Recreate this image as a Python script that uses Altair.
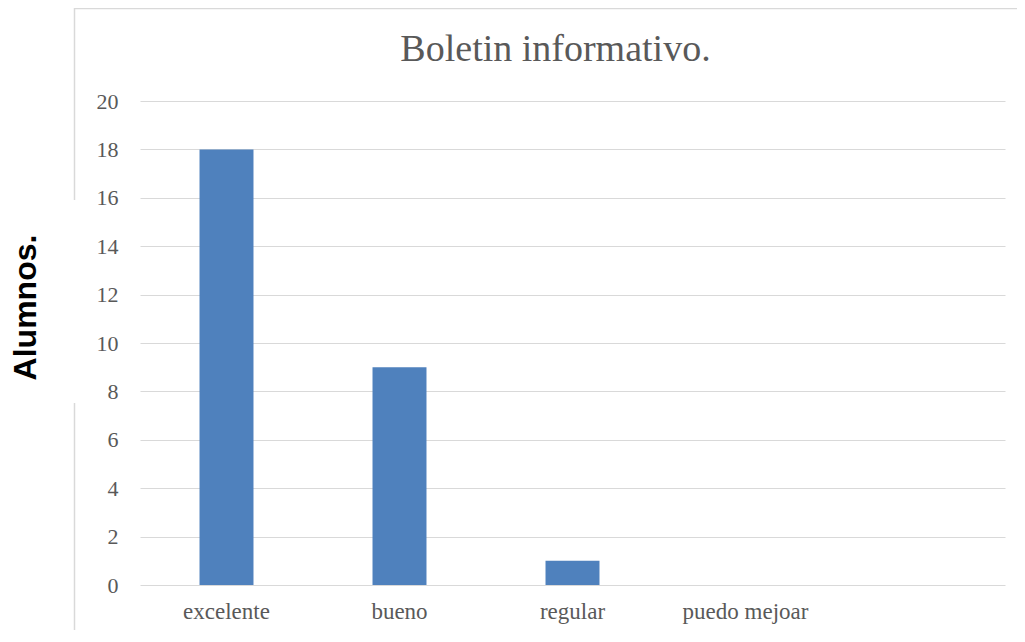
import altair as alt
import pandas as pd

categories = ["excelente", "bueno", "regular", "puedo mejoar"]
values = [18, 9, 1, 0]
domain_cats = categories + [" "]
y_ticks = [0, 2, 4, 6, 8, 10, 12, 14, 16, 18, 20]

df = pd.DataFrame({"cat": categories, "val": values})

GRID = "#D9D9D9"
TXT = "#595959"

bars = alt.Chart(df).mark_bar(color="#4F81BD").encode(
    x=alt.X(
        "cat:N",
        scale=alt.Scale(domain=domain_cats, paddingInner=0.688, paddingOuter=0.344),
        axis=alt.Axis(
            title=None, labelAngle=0, domain=False, ticks=False,
            labelFont="Liberation Serif", labelFontSize=23, labelColor=TXT,
            labelPadding=15,
        ),
    ),
    y=alt.Y(
        "val:Q",
        scale=alt.Scale(domain=[0, 20], nice=False),
        axis=alt.Axis(
            values=y_ticks, title="Alumnos.", domain=False, ticks=False,
            grid=True, gridColor=GRID, gridWidth=1,
            labelFont="Liberation Serif", labelFontSize=22, labelColor=TXT,
            labelPadding=22,
            titleFont="Liberation Sans", titleFontSize=32, titleFontWeight="bold",
            titleColor="black", titleAngle=-90, titleX=-115, titleY=206,
            titleAlign="center", titleBaseline="middle",
        ),
    ),
)

one = pd.DataFrame({"a": [0]})
border_top = alt.Chart(one).mark_rule(color=GRID, strokeWidth=1.5).encode(
    x=alt.value(-65), x2=alt.value(900), y=alt.value(-92.5)
)
border_left1 = alt.Chart(one).mark_rule(color=GRID, strokeWidth=1.5).encode(
    x=alt.value(-65.5), y=alt.value(-93), y2=alt.value(99)
)
border_left2 = alt.Chart(one).mark_rule(color=GRID, strokeWidth=1.5).encode(
    x=alt.value(-65.5), y=alt.value(302), y2=alt.value(545)
)

chart = alt.layer(border_top, border_left1, border_left2, bars).properties(
    width=865,
    height=484,
    title=alt.TitleParams(
        "Boletin informativo.", font="Liberation Serif", fontSize=38,
        fontWeight="normal", color=TXT, anchor="middle", dx=-17,
        baseline="alphabetic", offset=-92,
    ),
    autosize=alt.AutoSizeParams(type="none"),
    padding={"left": 132, "top": 93, "right": 12, "bottom": 45},
).configure_view(stroke=None)

chart.save("out.html", embed_options={"renderer": "svg", "actions": False})
